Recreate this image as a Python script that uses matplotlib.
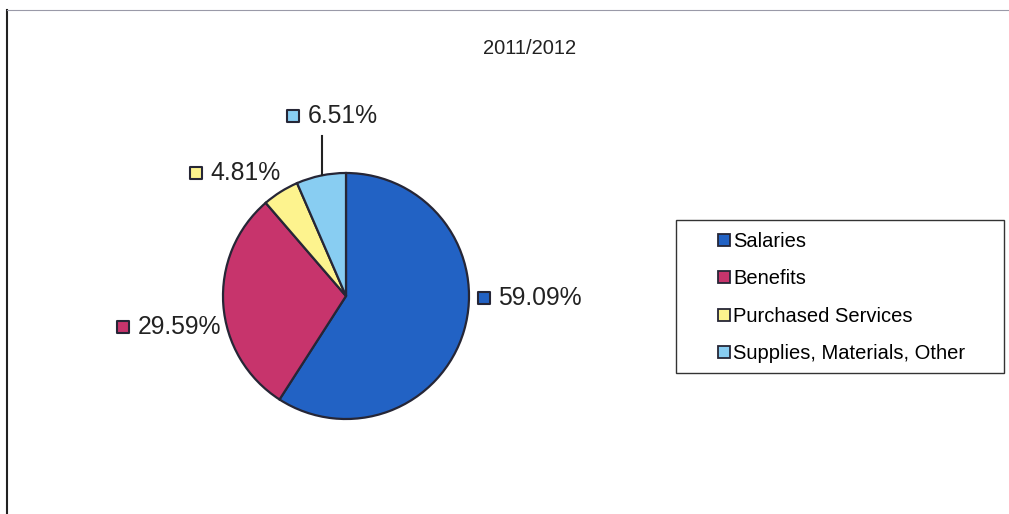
import matplotlib.pyplot as plt
from matplotlib.lines import Line2D
from matplotlib.patches import Rectangle

plt.rcParams['font.family'] = ['Liberation Sans', 'DejaVu Sans']

# data
categories = ['Salaries', 'Benefits', 'Purchased Services', 'Supplies, Materials, Other']
shares = [59.09, 29.59, 4.81, 6.51]
colors = ['#2262c4', '#c7346c', '#fdf38e', '#88cdf2']
title = '2011/2012'

# label layout (pie-radius units, left edge of marker square)
label_pos = [(1.07, -0.02), (-1.86, -0.25), (-1.27, 1.0), (-0.48, 1.46)]

fig = plt.figure(figsize=(10.09, 5.14), dpi=100)
W, H = 1009, 514
cx, cy, r = 346, 296, 123

ax = fig.add_axes([0, 0, 660 / W, 1])
ax.pie(shares, colors=colors, startangle=90, counterclock=False,
       wedgeprops=dict(edgecolor='#262636', linewidth=1.6))
ax.set_aspect('auto')
ax.set_xlim(-cx / r, (660 - cx) / r)
ax.set_ylim(-(H - cy) / r, cy / r)
ax.axis('off')

for (lx, ly), val, col in zip(label_pos, shares, colors):
    ax.scatter([lx + 0.05], [ly], marker='s', s=75, color=col,
               edgecolor='#262636', linewidth=1.5, zorder=5)
    ax.text(lx + 0.165, ly, f'{val:.2f}%', fontsize=17.8, color='#222222',
            va='center', ha='left')

# leader line for the small supplies slice
ax.plot([-0.195, -0.195], [1.30, 0.98], color='#222222', linewidth=1.5)

fig.text(530 / W, 1 - 48 / H, title, fontsize=14.5, ha='center', va='center',
         color='#222222')

# legend box drawn separately so the padding can match
fig.add_artist(Rectangle((676 / W, 1 - 373 / H), (1004 - 676) / W, (373 - 220) / H,
                         transform=fig.transFigure, facecolor='none',
                         edgecolor='#333333', linewidth=1.0))
handles = [Line2D([], [], linestyle='none', marker='s', markersize=9,
                  markerfacecolor=c, markeredgecolor='#262636',
                  markeredgewidth=1.3) for c in colors]
leg = fig.legend(handles, categories, loc='center left',
                 bbox_to_anchor=(717 / W, 1 - 297.5 / H), fontsize=14.5,
                 frameon=False, handlelength=0.7, handletextpad=0.1,
                 labelspacing=0.92, borderpad=0, borderaxespad=0)

# outer frame of the scanned chart area
fig.add_artist(Line2D([7 / W, 7 / W], [0, 1 - 10 / H], color='#222222',
                      linewidth=1.5, transform=fig.transFigure))
fig.add_artist(Line2D([7 / W, 1], [1 - 10 / H, 1 - 10 / H], color='#9a9aa8',
                      linewidth=0.8, transform=fig.transFigure))

fig.savefig('out.png', dpi=100)
